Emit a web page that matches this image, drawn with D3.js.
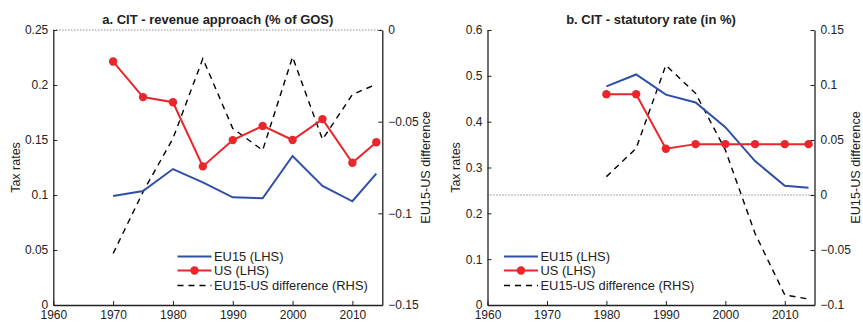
<!DOCTYPE html>
<html>
<head>
<meta charset="utf-8">
<script src="https://cdn.jsdelivr.net/npm/d3@7"></script>
<style>
  body { margin: 0; background: #fff; }
  svg { display: block; font-family: "Liberation Sans", Arial, sans-serif; }
</style>
</head>
<body>
<svg id="chart" width="863" height="322"></svg>
<script>
// panel a: revenue approach
const yearsA = [1970, 1975, 1980, 1985, 1990, 1995, 2000, 2005, 2010, 2014];
const eu15A = [0.099, 0.1036, 0.1236, 0.1115, 0.0979, 0.097, 0.1355, 0.1082, 0.0943, 0.1194];
const usA = [0.2213, 0.189, 0.1843, 0.126, 0.1499, 0.1628, 0.150, 0.169, 0.1293, 0.148];
const diffA = [-0.1219, -0.0883, -0.0592, -0.0156, -0.0537, -0.0656, -0.0147, -0.0597, -0.0352, -0.0296];

// panel b: statutory rate
const yearsB = [1980, 1985, 1990, 1995, 2000, 2005, 2010, 2014];
const eu15B = [0.477, 0.503, 0.459, 0.442, 0.388, 0.314, 0.260, 0.256];
const usB = [0.460, 0.460, 0.341, 0.351, 0.351, 0.351, 0.351, 0.351];
const diffB = [0.0167, 0.0424, 0.118, 0.0924, 0.041, -0.035, -0.0909, -0.0945];

const xTicks = [1960, 1970, 1980, 1990, 2000, 2010];
const legendLabels = ["EU15 (LHS)", "US (LHS)", "EU15-US difference (RHS)"];

const blue = "#3050a8";
const red = "#e8262b";

const svg = d3.select("#chart");

function drawPanel(p) {
  const g = svg.append("g");
  const x = d3.scaleLinear().domain([1960, 2015]).range([p.left, p.right]);
  const yL = d3.scaleLinear().domain(p.lDomain).range([305, 30]);
  const yR = d3.scaleLinear().domain(p.rDomain).range([305, 30]);

  // zero line of the difference
  g.append("line")
    .attr("x1", p.left).attr("x2", p.right)
    .attr("y1", yR(0)).attr("y2", yR(0))
    .attr("stroke", "#555").attr("stroke-width", 1)
    .attr("stroke-dasharray", "1,2");

  const fmt = d => d3.format("")(d);
  const axL = g.append("g").attr("transform", `translate(${p.left},0)`)
    .call(d3.axisLeft(yL).tickValues(p.lTicks).tickFormat(fmt).tickSizeInner(-4).tickSizeOuter(0).tickPadding(5));
  const axR = g.append("g").attr("transform", `translate(${p.right},0)`)
    .call(d3.axisRight(yR).tickValues(p.rTicks).tickFormat(fmt).tickSizeInner(-4).tickSizeOuter(0).tickPadding(6));
  const axB = g.append("g").attr("transform", "translate(0,305)")
    .call(d3.axisBottom(x).tickValues(xTicks).tickFormat(d3.format("d")).tickSizeInner(-4).tickSizeOuter(0).tickPadding(5.5));
  [axL, axR, axB].forEach(a => {
    a.selectAll("text").attr("font-size", 12).attr("fill", "#222").attr("font-family", "Liberation Sans, Arial, sans-serif");
    a.select(".domain").attr("stroke", "#222").attr("stroke-width", 1.3);
    a.selectAll(".tick line").attr("stroke", "#222");
  });

  // title
  g.append("text")
    .attr("x", (p.left + p.right) / 2).attr("y", 24)
    .attr("text-anchor", "middle")
    .attr("font-size", 13).attr("font-weight", "bold").attr("fill", "#222")
    .text(p.title);

  // axis labels
  g.append("text")
    .attr("transform", `translate(${p.lLabelX},${(30 + 305) / 2}) rotate(-90)`)
    .attr("text-anchor", "middle").attr("font-size", 12.5).attr("fill", "#222")
    .text("Tax rates");
  g.append("text")
    .attr("transform", `translate(${p.rLabelX},${(30 + 305) / 2}) rotate(-90)`)
    .attr("text-anchor", "middle").attr("font-size", 12.7).attr("fill", "#222")
    .text("EU15-US difference");

  const pts = (ys, vals) => ys.map((yr, i) => ({ year: yr, value: vals[i] }));

  // difference (RHS)
  g.append("path")
    .datum(pts(p.years, p.diff))
    .attr("fill", "none").attr("stroke", "#000").attr("stroke-width", 1.4)
    .attr("stroke-dasharray", "6,5")
    .attr("d", d3.line().x(d => x(d.year)).y(d => yR(d.value)));

  // EU15
  g.append("path")
    .datum(pts(p.years, p.eu15))
    .attr("fill", "none").attr("stroke", blue).attr("stroke-width", 2)
    .attr("d", d3.line().x(d => x(d.year)).y(d => yL(d.value)));

  // US
  const us = pts(p.years, p.us);
  g.append("path")
    .datum(us)
    .attr("fill", "none").attr("stroke", red).attr("stroke-width", 2)
    .attr("d", d3.line().x(d => x(d.year)).y(d => yL(d.value)));
  g.selectAll("circle.us")
    .data(us)
    .join("circle")
    .attr("class", "us")
    .attr("cx", d => x(d.year)).attr("cy", d => yL(d.value))
    .attr("r", 4.2).attr("fill", red);

  // legend
  const lg = g.append("g").attr("transform", `translate(${p.legX},0)`);
  const rows = [256.5, 270.5, 285.5];
  lg.append("line").attr("x1", 0).attr("x2", 34).attr("y1", rows[0]).attr("y2", rows[0])
    .attr("stroke", blue).attr("stroke-width", 2);
  lg.append("line").attr("x1", 0).attr("x2", 34).attr("y1", rows[1]).attr("y2", rows[1])
    .attr("stroke", red).attr("stroke-width", 2);
  lg.append("circle").attr("cx", 17).attr("cy", rows[1]).attr("r", 4.2).attr("fill", red);
  lg.append("line").attr("x1", 0).attr("x2", 34).attr("y1", rows[2]).attr("y2", rows[2])
    .attr("stroke", "#000").attr("stroke-width", 1.4).attr("stroke-dasharray", "6,5");
  legendLabels.forEach((t, i) => {
    lg.append("text").attr("x", 36.5).attr("y", rows[i] + 4.5)
      .attr("font-size", 12.9).attr("fill", "#222").text(t);
  });
}

drawPanel({
  left: 53.3, right: 382.3,
  lDomain: [0, 0.25], rDomain: [-0.15, 0],
  lTicks: [0, 0.05, 0.1, 0.15, 0.2, 0.25],
  rTicks: [-0.15, -0.1, -0.05, 0],
  title: "a. CIT - revenue approach (% of GOS)",
  lLabelX: 19.5, rLabelX: 429.5,
  legX: 177.5,
  years: yearsA, eu15: eu15A, us: usA, diff: diffA
});

drawPanel({
  left: 487.5, right: 814.5,
  lDomain: [0, 0.6], rDomain: [-0.1, 0.15],
  lTicks: [0, 0.1, 0.2, 0.3, 0.4, 0.5, 0.6],
  rTicks: [-0.1, -0.05, 0, 0.05, 0.1, 0.15],
  title: "b. CIT - statutory rate (in %)",
  lLabelX: 460, rLabelX: 859.5,
  legX: 504,
  years: yearsB, eu15: eu15B, us: usB, diff: diffB
});
</script>
</body>
</html>
